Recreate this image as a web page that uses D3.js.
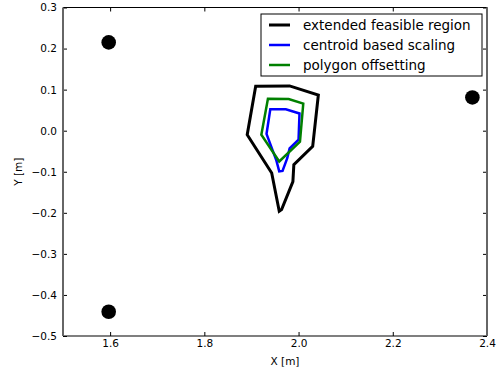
<!DOCTYPE html>
<html>
<head>
<meta charset="utf-8">
<script src="https://cdn.jsdelivr.net/npm/d3@7"></script>
<style>
  body { margin: 0; background: #fff; }
  svg { font-family: "DejaVu Sans", sans-serif; }
</style>
</head>
<body>
<svg id="chart" width="499" height="371"></svg>
<script>
// polygons (x, y in metres)
const extendedRegion = [
  [1.909, 0.108], [1.981, 0.109], [2.042, 0.087], [2.030, -0.038],
  [1.990, -0.083], [1.988, -0.124], [1.964, -0.192], [1.959, -0.196],
  [1.943, -0.103], [1.891, -0.010]
];
const centroidScaling = [
  [1.940, 0.052], [1.973, 0.052], [2.002, 0.042], [2.000, -0.022],
  [1.981, -0.043], [1.976, -0.067], [1.966, -0.098], [1.959, -0.099],
  [1.953, -0.073], [1.932, -0.008]
];
const polygonOffset = [
  [1.935, 0.078], [1.979, 0.077], [2.010, 0.066], [2.003, -0.027],
  [1.959, -0.075], [1.921, -0.010]
];
const anchors = [[1.597, 0.215], [1.597, -0.441], [2.369, 0.081]];

const xTicks = [1.6, 1.8, 2.0, 2.2, 2.4];
const yTicks = [0.3, 0.2, 0.1, 0.0, -0.1, -0.2, -0.3, -0.4, -0.5];

const series = [
  { name: "extended feasible region", color: "#000000", width: 3, pts: extendedRegion },
  { name: "centroid based scaling", color: "#0000ff", width: 2.5, pts: centroidScaling },
  { name: "polygon offsetting", color: "#008000", width: 2.5, pts: polygonOffset }
];

const margin = { left: 63, top: 7.5, right: 12, bottom: 35 };
const W = 499, H = 371;
const iw = W - margin.left - margin.right;
const ih = H - margin.top - margin.bottom;

const svg = d3.select("#chart");
const g = svg.append("g").attr("transform", `translate(${margin.left},${margin.top})`);

const x = d3.scaleLinear().domain([1.5, 2.4]).range([0, iw]);
const y = d3.scaleLinear().domain([-0.5, 0.3]).range([ih, 0]);

const fmt = d => d3.format(".1f")(d).replace("-", "\u2212");

// polygons
const line = d3.line().x(d => x(d[0])).y(d => y(d[1])).curve(d3.curveLinearClosed);
series.forEach(s => {
  g.append("path")
    .attr("d", line(s.pts))
    .attr("fill", "none")
    .attr("stroke", s.color)
    .attr("stroke-width", s.width)
    .attr("stroke-linejoin", "miter");
});

// anchor points
g.selectAll("circle.anchor")
  .data(anchors)
  .join("circle")
  .attr("class", "anchor")
  .attr("cx", d => x(d[0]))
  .attr("cy", d => y(d[1]))
  .attr("r", 7.3)
  .attr("fill", "#000");

// axes (ticks inside, on all four sides)
const tickLen = 4;
g.append("g").attr("transform", `translate(0,${ih})`)
  .call(d3.axisBottom(x).tickValues(xTicks).tickSize(-tickLen).tickPadding(4).tickFormat(fmt))
  .call(a => a.select(".domain").remove());
g.append("g")
  .call(d3.axisTop(x).tickValues(xTicks).tickSize(-tickLen).tickFormat(""))
  .call(a => a.select(".domain").remove());
g.append("g")
  .call(d3.axisLeft(y).tickValues(yTicks).tickSize(-tickLen).tickPadding(6).tickFormat(fmt))
  .call(a => a.select(".domain").remove());
g.append("g").attr("transform", `translate(${iw},0)`)
  .call(d3.axisRight(y).tickValues(yTicks).tickSize(-tickLen).tickFormat(""))
  .call(a => a.select(".domain").remove());

g.selectAll(".tick text")
  .attr("font-family", "DejaVu Sans, sans-serif")
  .attr("font-size", 10.5)
  .attr("fill", "#000");
g.selectAll(".tick line").attr("stroke", "#000");

// frame
g.append("line").attr("x1", 0).attr("x2", iw).attr("y1", 0).attr("y2", 0)
  .attr("stroke", "#000").attr("stroke-width", 1);
g.append("line").attr("x1", 0).attr("x2", iw).attr("y1", ih).attr("y2", ih)
  .attr("stroke", "#000").attr("stroke-width", 1.2);
g.append("line").attr("x1", 0).attr("x2", 0).attr("y1", 0).attr("y2", ih)
  .attr("stroke", "#666").attr("stroke-width", 2);
g.append("line").attr("x1", iw).attr("x2", iw).attr("y1", 0).attr("y2", ih)
  .attr("stroke", "#666").attr("stroke-width", 2);

// axis labels
svg.append("text")
  .attr("x", margin.left + iw / 2 + 10).attr("y", H - 6)
  .attr("text-anchor", "middle").attr("font-size", 10.5)
  .text("X [m]");
svg.append("text")
  .attr("transform", `translate(22,${margin.top + ih / 2}) rotate(-90)`)
  .attr("text-anchor", "middle").attr("font-size", 10.5)
  .text("Y [m]");

// legend
const legend = g.append("g").attr("transform", `translate(${iw - 226},${6.5})`);
legend.append("rect")
  .attr("width", 221).attr("height", 62)
  .attr("fill", "#fff").attr("stroke", "#000").attr("stroke-width", 1);
series.forEach((s, i) => {
  const row = legend.append("g").attr("transform", `translate(0,${11 + i * 20})`);
  row.append("line")
    .attr("x1", 8).attr("x2", 29)
    .attr("stroke", s.color).attr("stroke-width", s.width);
  row.append("text")
    .attr("x", 42).attr("dy", "0.35em")
    .attr("font-size", 13.5)
    .text(s.name);
});
</script>
</body>
</html>
